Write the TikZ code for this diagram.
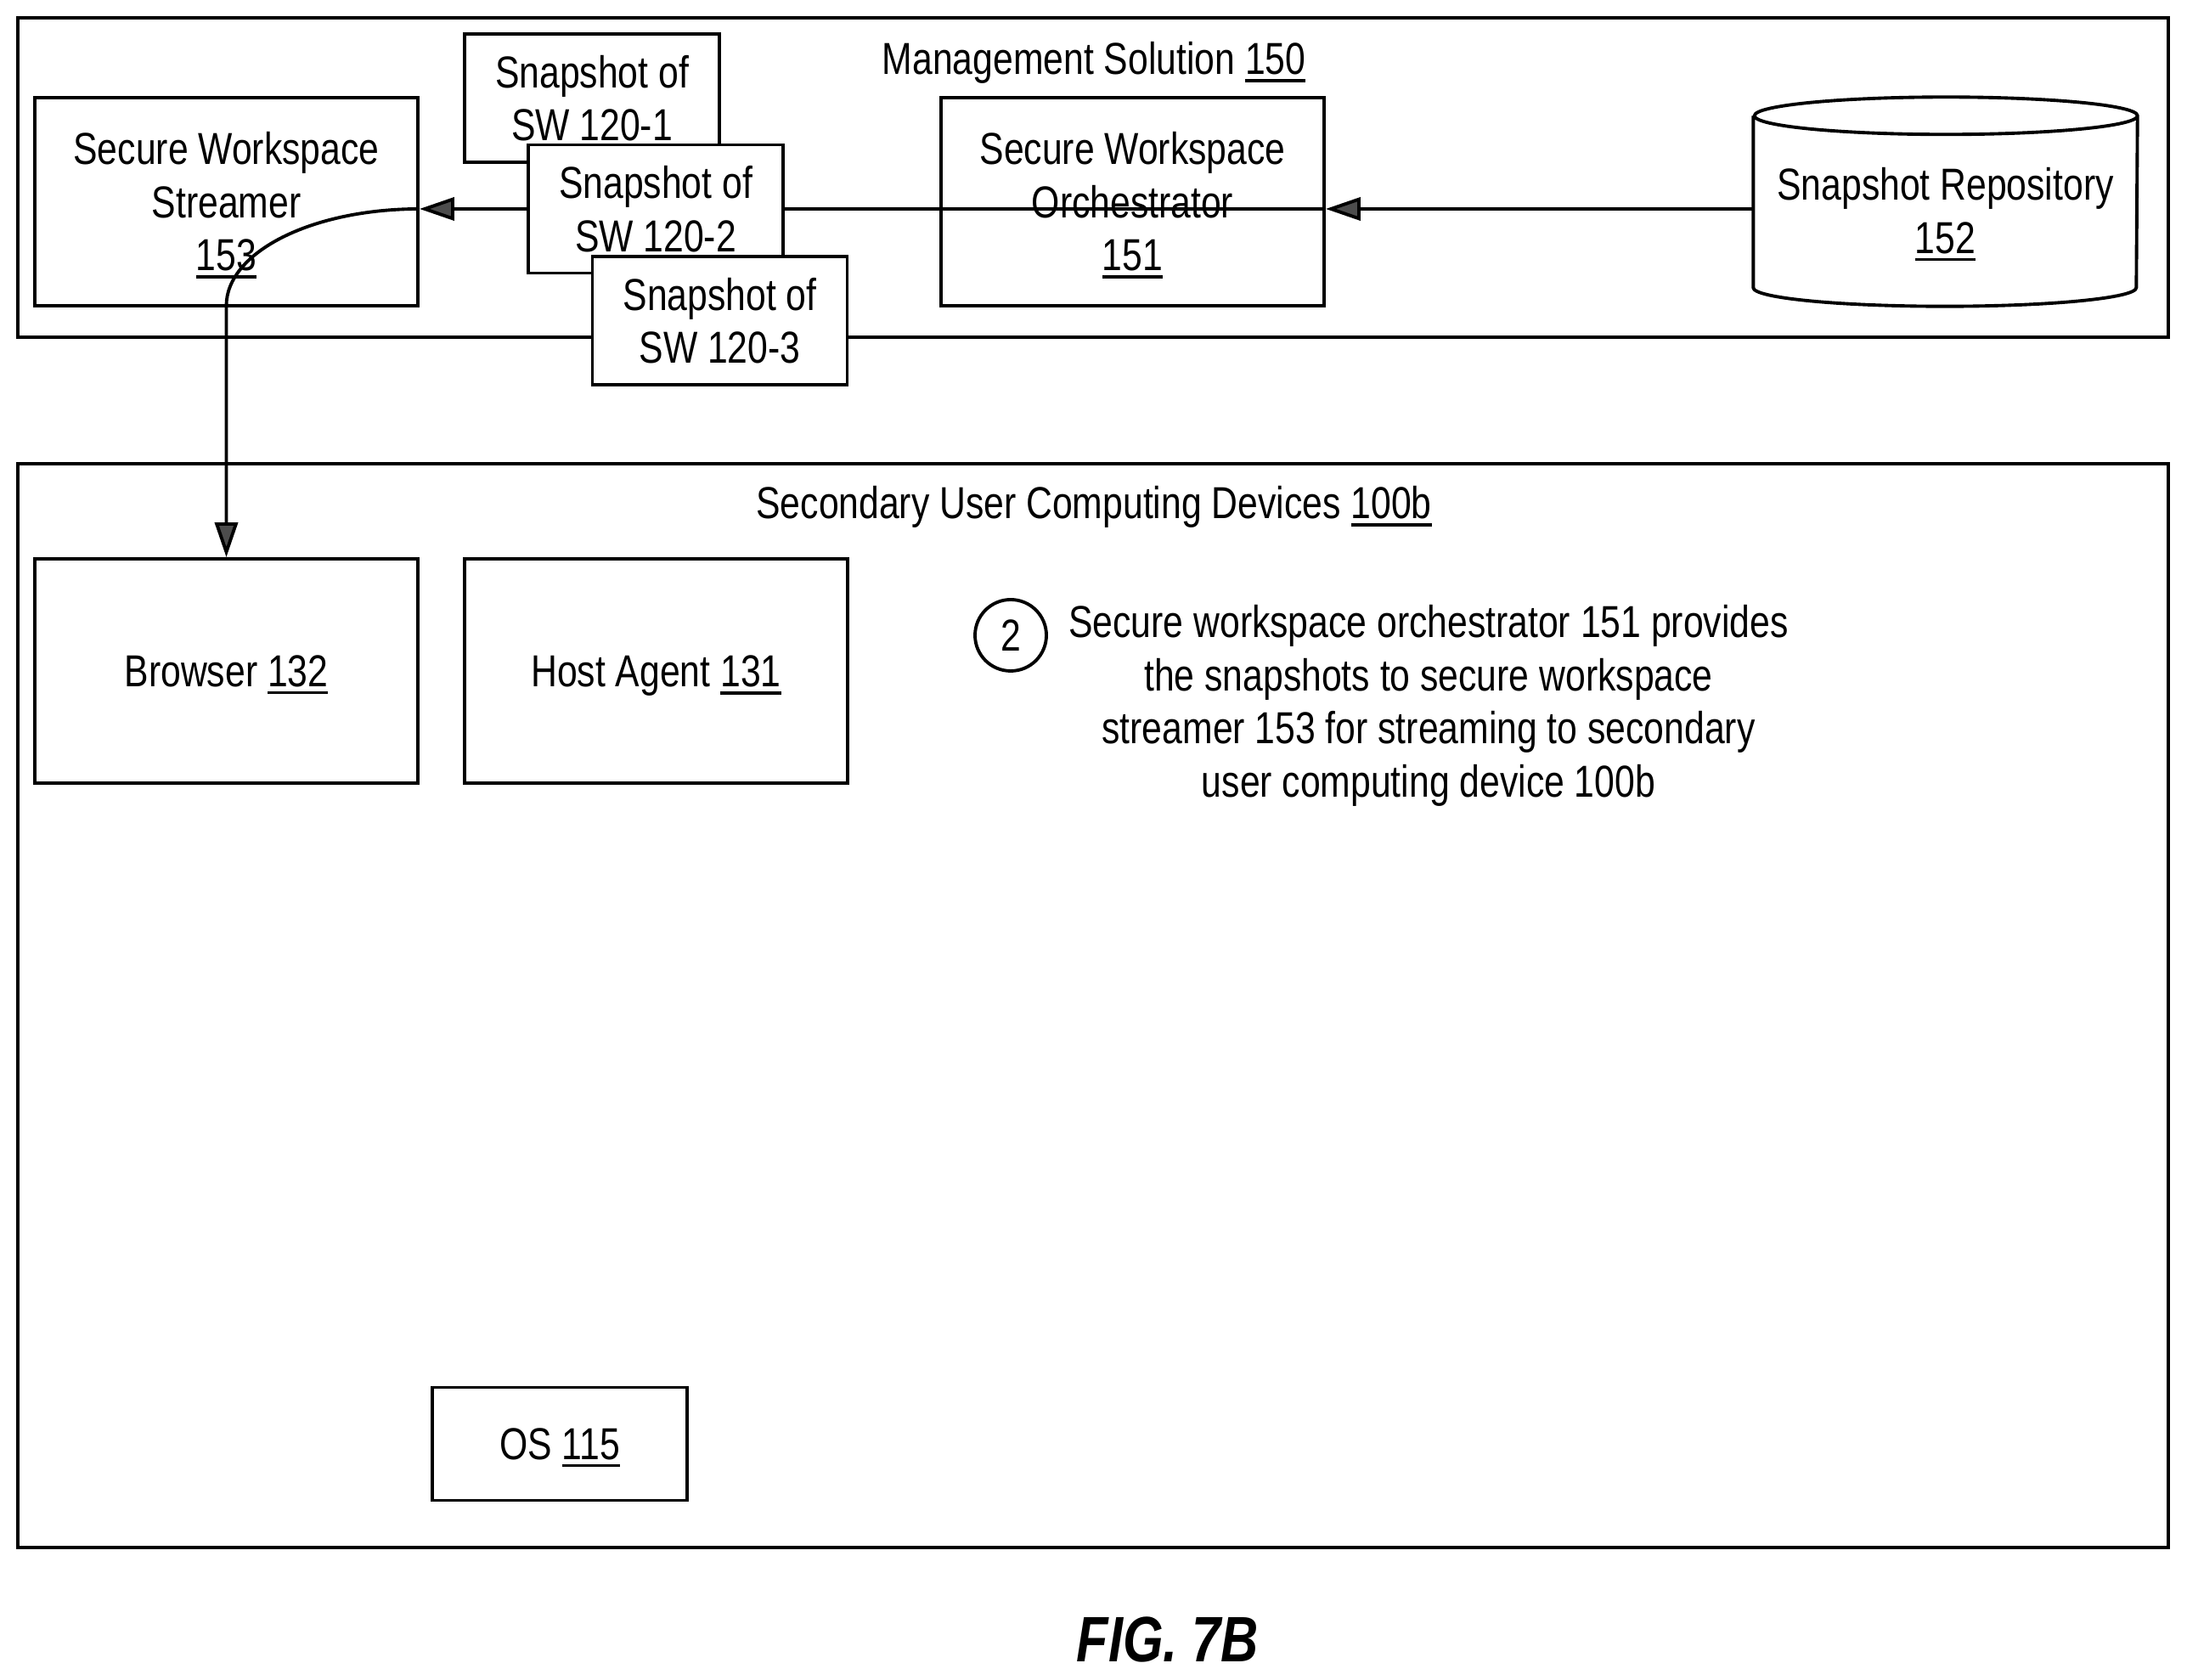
\documentclass[tikz,border=0pt]{standalone}
\usepackage{fontspec}
\setmainfont[FakeStretch=0.81]{Liberation Sans}
\usepackage{tikz}
\usetikzlibrary{arrows.meta, calc}

\newcommand{\ulnum}[1]{\leavevmode\setbox0\hbox{#1}\rlap{\smash{\rule[-2.6pt]{\wd0}{1pt}}}\box0}

\tikzset{
  panel/.style={draw=black,line width=1.3pt,inner sep=0pt},
  box/.style={draw=black,fill=white,line width=1.1pt,inner sep=0pt,align=center},
  link/.style={draw=black,line width=1.1pt},
  tip/.style={-{Stealth[length=0.41cm,width=0.27cm,inset=0pt,fill=black!70]}},
}

\begin{document}
\begin{tikzpicture}[font=\fontsize{15}{17.8}\selectfont]

          % --- Page frame ---
          \useasboundingbox (0,0) rectangle (25.75,19.78);

          % --- Outer panels ---
          \node[panel,minimum width=25.32cm,minimum height=3.76cm] (mgmt) at (12.87,17.69) {};
          \node (mgmttitle) at (12.88,19.04) {Management Solution \ulnum{150}};
          \node[panel,minimum width=25.32cm,minimum height=12.76cm] (secondary) at (12.87,7.94) {};
          \node (secondarytitle) at (12.88,13.81) {Secondary User Computing Devices \ulnum{100b}};

          % --- Management solution: streamer, snapshots, orchestrator, repository ---
          \node[box,minimum width=4.51cm,minimum height=2.45cm] (streamer) at (2.665,17.405)
            {Secure Workspace\\Streamer\\\ulnum{153}};
          \node[box,minimum width=3.00cm,minimum height=1.51cm] (snapone) at (6.97,18.625)
            {Snapshot of\\SW 120-1};
          \node[box,minimum width=3.00cm,minimum height=1.51cm] (snaptwo) at (7.72,17.32)
            {Snapshot of\\SW 120-2};
          \node[box,minimum width=3.00cm,minimum height=1.51cm] (snapthree) at (8.475,16.005)
            {Snapshot of\\SW 120-3};
          \node[box,minimum width=4.51cm,minimum height=2.45cm] (orch) at (13.335,17.405)
            {Secure Workspace\\Orchestrator\\\ulnum{151}};

          % repository: the node only holds the place, the drum is drawn on it
          \node[inner sep=0pt,minimum width=4.51cm,minimum height=2.45cm] (repo) at (22.905,17.405) {};
          \draw[line width=1.1pt,fill=white] ($(repo.north west)+(0,-0.22)$) -- ($(repo.south west)+(0,0.22)$)
            arc[x radius=2.255,y radius=0.22,start angle=180,end angle=360]
            -- ($(repo.north east)+(0,-0.22)$)
            arc[x radius=2.255,y radius=0.22,start angle=0,end angle=180]
            arc[x radius=2.255,y radius=0.22,start angle=180,end angle=360];
          \node[align=center] (repolabel) at (22.905,17.30) {Snapshot Repository\\\ulnum{152}};

          % --- Secondary devices ---
          \node[box,minimum width=4.51cm,minimum height=2.64cm] (browser) at (2.665,11.88)
            {Browser \ulnum{132}};
          \node[box,minimum width=4.51cm,minimum height=2.64cm,text depth=0pt] (host) at (7.725,11.88)
            {Host Agent \ulnum{131}};
          \node[box,minimum width=3.00cm,minimum height=1.33cm] (os) at (6.59,2.78)
            {OS \ulnum{115}};

          % --- Step marker and its note ---
          \node[circle,draw=black,line width=1.1pt,minimum size=0.84cm,inner sep=0pt] (stepmark) at (11.90,12.30) {2};
          \node[align=center] (note) at (16.82,11.47)
            {Secure workspace orchestrator 151 provides\\the snapshots to secure workspace\\streamer 153 for streaming to secondary\\user computing device 100b};

          % --- Connectors (all at the height of the middle snapshot) ---
          \draw[link,tip] (repo.west |- snaptwo.east) -- (orch.east |- snaptwo.east);
          \draw[link] (orch.east |- snaptwo.east) -- (snaptwo.east);
          \draw[link,tip] (snaptwo.west) -- (streamer.east |- snaptwo.west);
          \draw[link,tip] (streamer.east |- snaptwo.west) .. controls (3.67,17.32) and (2.665,16.81) .. (2.665,16.18) -- (browser.north);

          % --- Figure label ---
          \node[font=\fontsize{21.5}{26}\bfseries\itshape] (figlabel) at (13.75,0.48) {FIG. 7B};

        \end{tikzpicture}
\end{document}
